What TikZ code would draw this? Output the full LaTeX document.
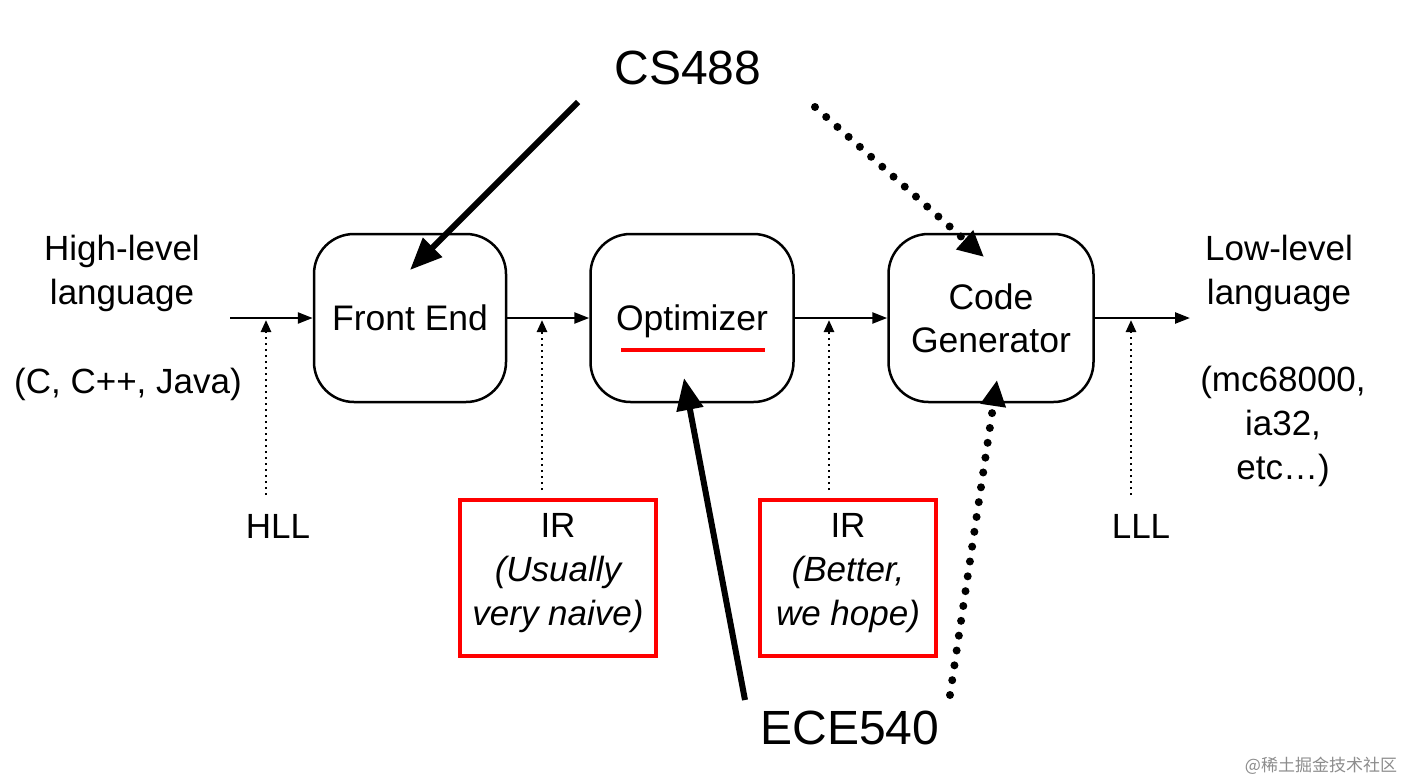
\documentclass[tikz,border=0pt]{standalone}
\usepackage{fontspec}
\setmainfont{Liberation Sans}
\newfontfamily\cjk{Noto Sans CJK SC}
\usetikzlibrary{arrows.meta}
\begin{document}
\begin{tikzpicture}[x=1pt,y=-1pt,
  stage/.style={draw,line width=2.5pt,rounded corners=40pt,minimum height=168pt,align=center,font=\fontsize{35.5}{43}\selectfont},
  lbl/.style={align=center,font=\fontsize{35}{44}\selectfont},
  big/.style={font=\fontsize{48}{56}\selectfont},
  flow/.style={line width=2.5pt,-{Triangle[length=15pt,width=11pt]}},
  probe/.style={line width=2.5pt,dash pattern=on 2.5pt off 3.5pt,-{Triangle[length=12pt,width=10pt]}},
  irbox/.style={draw=red,line width=4.5pt,minimum width=196pt,minimum height=156pt},
  solidarrow/.style={line width=6pt,-{Triangle[length=32pt,width=26pt]}},
  dotarrow/.style={line width=8pt,line cap=round,dash pattern=on 0pt off 15pt,-{Triangle[length=26pt,width=24pt]}}]
\useasboundingbox (0,0) rectangle (1408,782);
% stages
\node[stage,minimum width=192pt] (fe) at (410,318) {Front End};
\node[stage,minimum width=203pt,text depth=0pt] (opt) at (692,318) {Optimizer};
\node[stage,minimum width=205pt] (cg) at (991,318) {Code\\Generator};
% flow
\coordinate (in) at (230,318);
\coordinate (out) at (1190,318);
\draw[flow] (in) -- (fe.west);
\draw[flow] (fe.east) -- (opt.west);
\draw[flow] (opt.east) -- (cg.west);
\draw[flow] (cg.east) -- (out);
% side labels
\node[lbl] (hl) at (122,273) {High-level\\language};
\node[lbl] (hlx) at (128,384) {(C, C++, Java)};
\node[lbl] (ll) at (1279,273) {Low-level\\language};
\node[lbl] (llx) at (1283,426) {(mc68000,\\ia32,\\etc…)};
% probe labels
\node[lbl] (hll) at (278,526) {HLL};
\node[lbl] (lll) at (1141,526) {LLL};
\node[irbox] (ir1) at (558,578) {};
\node[irbox,minimum width=176pt] (ir2) at (848,578) {};
\node[lbl] (ir1t) at (558,573) {IR\\\itshape(Usually\\\itshape very naive)};
\node[lbl] (ir2t) at (848,573) {IR\\\itshape(Better,\\\itshape we hope)};
% probes
\coordinate (p1s) at (266,495);
\coordinate (p1e) at (266,320);
\coordinate (p2s) at (542,490);
\coordinate (p2e) at (542,320);
\coordinate (p3s) at (829,490);
\coordinate (p3e) at (829,320);
\coordinate (p4s) at (1131,495);
\coordinate (p4e) at (1131,320);
\draw[probe] (p1s) -- (p1e);
\draw[probe] (p2s) -- (p2e);
\draw[probe] (p3s) -- (p3e);
\draw[probe] (p4s) -- (p4e);
% underline
\coordinate (u1) at (621,350);
\coordinate (u2) at (765,350);
\draw[red,line width=4.5pt] (u1) -- (u2);
% course labels
\node[big] (cs) at (688,68) {CS488};
\node[big] (ece) at (850,728) {ECE540};
\coordinate (cs1) at (578,102);
\coordinate (cs1e) at (410,270);
\coordinate (cs2) at (815,107);
\coordinate (cs2e) at (984,257);
\coordinate (ec1) at (745,700);
\coordinate (ec1e) at (684,378);
\coordinate (ec2) at (950,695);
\coordinate (ec2e) at (997,380);
\draw[solidarrow] (cs1) -- (cs1e);
\draw[dotarrow] (cs2) -- (cs2e);
\draw[solidarrow] (ec1) -- (ec1e);
\draw[dotarrow] (ec2) -- (ec2e);
% watermark
\node[text=black!45,font=\cjk\fontsize{17}{20}\selectfont] (wm) at (1321,766) {@稀土掘金技术社区};
\end{tikzpicture}
\end{document}
